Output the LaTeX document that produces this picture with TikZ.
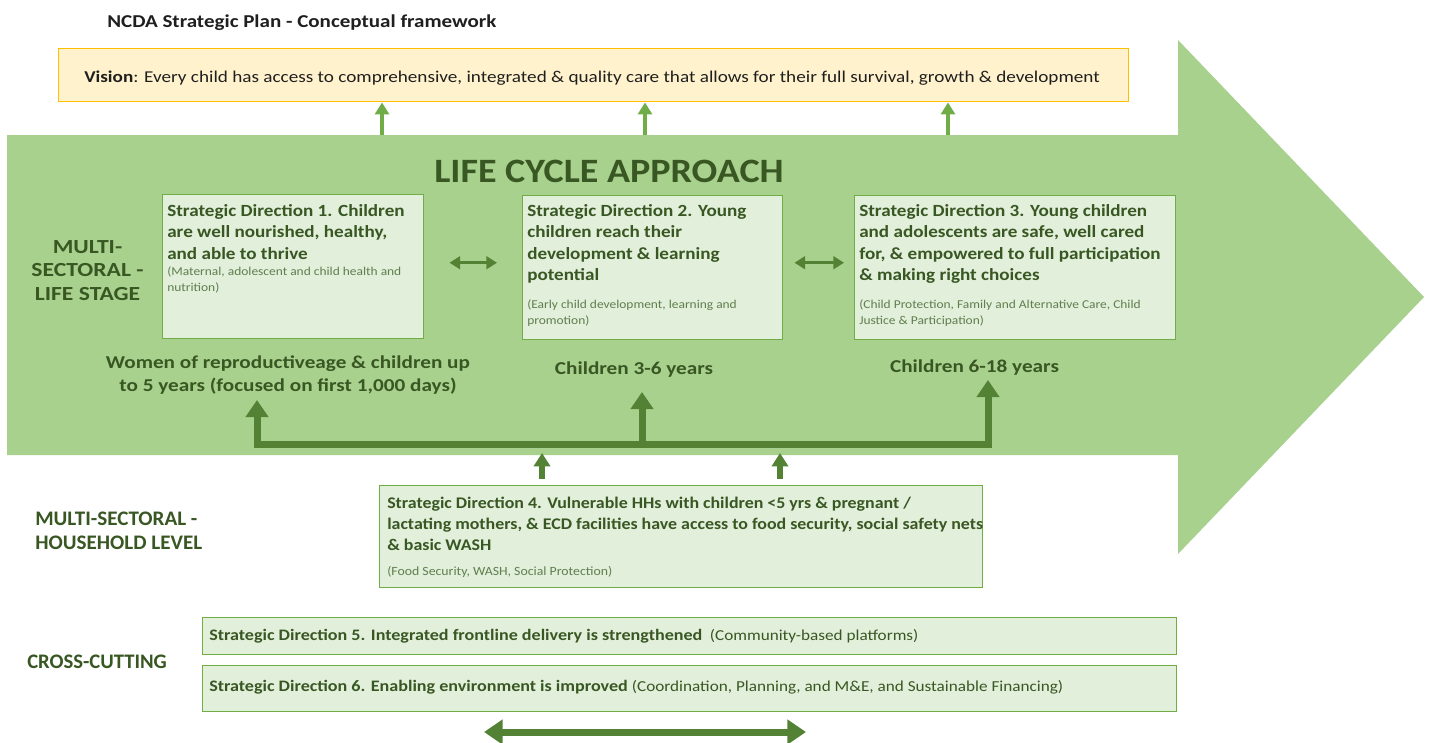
\documentclass[tikz,border=0pt]{standalone}
\usepackage{fontspec}
\usepackage{graphicx}
\setmainfont{Carlito}
\usetikzlibrary{arrows.meta,calc}

\definecolor{bodygreen}{HTML}{A9D18E}
\definecolor{boxfill}{HTML}{E2EFDA}
\definecolor{boxline}{HTML}{70AD47}
\definecolor{darkgreen}{HTML}{385723}
\definecolor{conngreen}{HTML}{548235}
\definecolor{visfill}{HTML}{FFF2CC}
\definecolor{visline}{HTML}{FFC000}
\definecolor{subtext}{HTML}{5F7F4E}

% horizontal stretch of a text box
\newcommand{\xs}[2]{\scalebox{#1}[1]{#2}}
% centred multi-line block
\newcommand{\lines}[1]{\begin{tabular}{@{}c@{}}#1\end{tabular}}
% left-aligned paragraph block, top-aligned on its first line
\newcommand{\para}[1]{\begin{minipage}[t]{600pt}\raggedright #1\end{minipage}}
\newcommand{\sdhead}{\fontsize{12.8}{16.1}\selectfont\bfseries}
\newcommand{\sdnote}{\fontsize{9}{12}\selectfont\mdseries\color{subtext}}
\newcommand{\ccnote}{\fontsize{11.4}{14}\selectfont}

\begin{document}
\begin{tikzpicture}[x=0.75pt,y=-0.75pt,
  sdbox/.style={draw=boxline, fill=boxfill, line width=1.1pt, inner sep=0pt, anchor=north west},
  sdtext/.style={anchor=north west, inner sep=0pt, text=darkgreen},
  lab/.style={text=darkgreen, inner sep=0pt, font=\fontsize{13.6}{17.25}\selectfont\bfseries},
  upvis/.style={draw=boxline, line width=3pt, -{Triangle[width=10.5pt,length=9pt]}},
  conn/.style={draw=conngreen, line width=5.25pt},
  connhead/.style={-{Triangle[width=16.5pt,length=12.75pt]}},
  hdbl/.style={draw=conngreen, line width=2.6pt, {Triangle[width=9.5pt,length=8pt]}-{Triangle[width=9.5pt,length=8pt]}},
  smallup/.style={draw=conngreen, line width=3.8pt, -{Triangle[width=12pt,length=10pt]}}
]
\useasboundingbox (0,0) rectangle (1434,742);
\fill[white] (0,0) rectangle (1434,742);

% big life-cycle arrow
\fill[bodygreen] (7,135) -- (1178,135) -- (1178,40) -- (1424,297) -- (1178,554) -- (1178,455) -- (7,455) -- cycle;
\coordinate (b1) at (382,135);
\coordinate (b2) at (645,135);
\coordinate (b3) at (948,135);

% title and vision
\node[anchor=west, inner sep=0pt, font=\fontsize{13.6}{16}\selectfont\bfseries, text=black!88] (title) at (107,23) {\xs{1.16}{NCDA Strategic Plan - Conceptual framework}};
\node[draw=visline, fill=visfill, line width=1.1pt, anchor=north west, minimum width=1070*0.75pt, minimum height=53*0.75pt, inner sep=0pt] (vision) at (58,48) {};
\node[anchor=west, inner sep=0pt, font=\fontsize{12.4}{15}\selectfont, text=black!88] (visiontxt) at (84,78) {\xs{1.16}{\textbf{Vision}: Every child has access to comprehensive, integrated \& quality care that allows for their full survival, growth \& development}};

\foreach \b in {b1,b2,b3} \draw[upvis] (\b) -- (\b |- vision.south);

\node[text=darkgreen, inner sep=0pt, font=\fontsize{25.6}{30}\selectfont\bfseries] (lca) at (609,171) {\xs{1.115}{LIFE CYCLE APPROACH}};

% row labels
\node[lab, font=\fontsize{15}{17.6}\selectfont\bfseries] (lifestage) at (87.5,272) {\xs{1.18}{\lines{MULTI-\\SECTORAL -\\LIFE STAGE}}};
\node[lab, anchor=west, font=\fontsize{15.5}{17.6}\selectfont\bfseries] (household) at (35,533) {\xs{1.02}{\begin{tabular}{@{}l@{}}MULTI-SECTORAL -\\HOUSEHOLD LEVEL\end{tabular}}};
\node[lab, anchor=west, font=\fontsize{15.5}{17.6}\selectfont\bfseries] (cross) at (27,662) {CROSS-CUTTING};

% strategic directions 1-3
\node[sdbox, minimum width=261*0.75pt, minimum height=144*0.75pt] (sd1) at (162,194) {};
\node[sdbox, minimum width=260*0.75pt, minimum height=144*0.75pt] (sd2) at (522,195) {};
\node[sdbox, minimum width=321*0.75pt, minimum height=144*0.75pt] (sd3) at (854,195) {};

\node[sdtext] (sd1t) at ($(sd1.north west)+(5,10)$) {\xs{1.12}{\para{%
  \sdhead Strategic Direction 1. Children\\ are well nourished, healthy,\\ and able to thrive\par
  \sdnote (Maternal, adolescent and child health and\\ nutrition)\par}}};
\node[sdtext] (sd2t) at ($(sd2.north west)+(5,9)$) {\xs{1.12}{\para{%
  \sdhead Strategic Direction 2. Young\\ children reach their\\ development \& learning\\ potential\par
  \vspace{8.6pt}
  \sdnote (Early child development, learning and\\ promotion)\par}}};
\node[sdtext] (sd3t) at ($(sd3.north west)+(5,9)$) {\xs{1.12}{\para{%
  \sdhead Strategic Direction 3. Young children\\ and adolescents are safe, well cared\\ for, \& empowered to full participation\\ \& making right choices\par
  \vspace{8.6pt}
  \sdnote (Child Protection, Family and Alternative Care, Child\\ Justice \& Participation)\par}}};

\draw[hdbl] ($(sd1.east)+(25,-4)$) -- ($(sd2.west)+(-25,-5)$);
\draw[hdbl] ($(sd2.east)+(11,-5)$) -- ($(sd3.west)+(-10,-5)$);

% target groups
\node[lab] (age1) at (288,375) {\xs{1.17}{\lines{Women of reproductiveage \& children up\\ to 5 years (focused on first 1,000 days)}}};
\node[lab] (age2) at (634,370) {\xs{1.17}{Children 3-6 years}};
\node[lab] (age3) at (974.5,368) {\xs{1.17}{Children 6-18 years}};

% shared delivery line feeding the three stages
\coordinate (hub) at (642,444);
\coordinate (tip1) at (257,400);
\coordinate (tip2) at (642,392);
\coordinate (tip3) at (988,380);
\draw[conn, connhead] (hub) -| (tip1);
\draw[conn, connhead] (hub) -| (tip3);
\draw[conn, connhead] (hub) -- (tip2);

% strategic direction 4
\node[sdbox, minimum width=603*0.75pt, minimum height=102*0.75pt] (sd4) at (379,485) {};
\node[sdtext] (sd4t) at ($(sd4.north west)+(8,12)$) {\xs{1.1}{\para{%
  \fontsize{12.2}{15.75}\selectfont\bfseries Strategic Direction 4. Vulnerable HHs with children <5 yrs \& pregnant /\\ lactating mothers, \& ECD facilities have access to food security, social safety nets\\ \& basic WASH\par
  \vspace{6.75pt}
  \fontsize{9.4}{12}\selectfont\mdseries\color{subtext}(Food Security, WASH, Social Protection)\par}}};
\coordinate (s4a) at (542,453);
\coordinate (s4b) at (780,453);
\draw[smallup] ($(sd4.north -| s4a)+(0,-6)$) -- (s4a);
\draw[smallup] ($(sd4.north -| s4b)+(0,-6)$) -- (s4b);

% cross-cutting directions
\node[sdbox, minimum width=974*0.75pt, minimum height=37*0.75pt] (sd5) at (202,617) {};
\node[sdbox, minimum width=974*0.75pt, minimum height=46*0.75pt] (sd6) at (202,665) {};
\node[anchor=west, inner sep=0pt, text=darkgreen, font=\fontsize{12}{14}\selectfont] (sd5t) at ($(sd5.west)+(7,0)$)
  {\xs{1.13}{\textbf{Strategic Direction 5. Integrated frontline delivery is strengthened}\hspace{5pt}{\ccnote(Community-based platforms)}}};
\node[anchor=west, inner sep=0pt, text=darkgreen, font=\fontsize{12}{14}\selectfont] (sd6t) at ($(sd6.west)+(7,-2)$)
  {\xs{1.13}{\textbf{Strategic Direction 6. Enabling environment is improved} {\ccnote(Coordination, Planning, and M\&E, and Sustainable Financing)}}};

\coordinate (dl) at (484,732);
\coordinate (dr) at (806,732);
\draw[draw=conngreen, line width=5.25pt, {Triangle[width=18pt,length=14pt]}-{Triangle[width=18pt,length=14pt]}] (dl) -- (dr);
\end{tikzpicture}
\end{document}
